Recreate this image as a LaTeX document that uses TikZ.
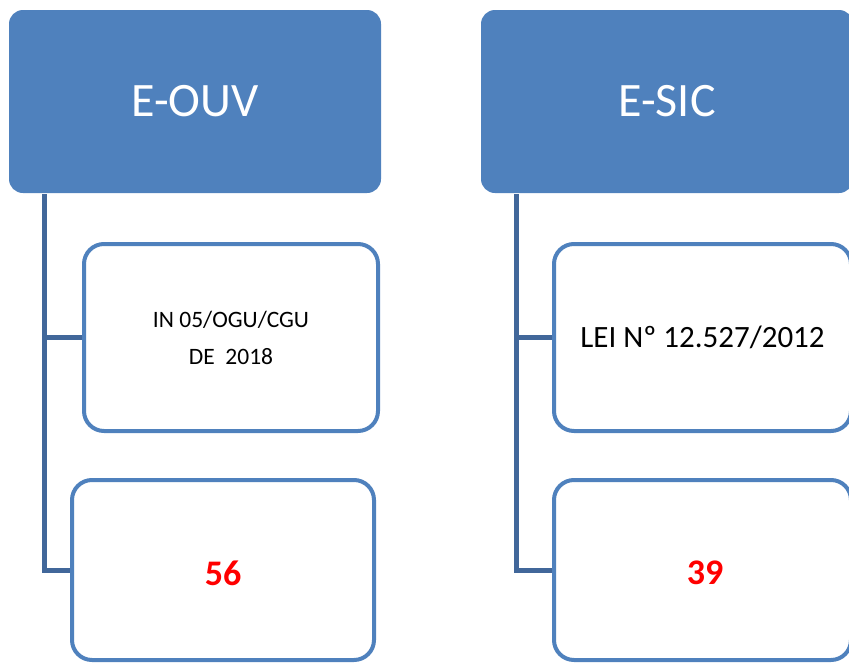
\documentclass[tikz,border=0pt]{standalone}
\usepackage{fontspec}
\setmainfont{Carlito}
\definecolor{accent}{HTML}{4F81BD}
\definecolor{linkline}{HTML}{41679A}
\definecolor{numred}{HTML}{FF0000}
\begin{document}
\begin{tikzpicture}[x=1pt,y=-1pt,
  header/.style={fill=accent, rounded corners=14pt, inner sep=0pt,
    minimum width=372pt, minimum height=183pt, text=white,
    font=\fontsize{48}{58}\selectfont},
  card/.style={draw=accent, line width=4pt, fill=white, rounded corners=20pt,
    inner sep=0pt, align=center},
  num/.style={text=numred, font=\fontsize{36}{40}\selectfont\bfseries},
  conn/.style={draw=linkline, line width=5pt}]
\useasboundingbox (0,0) rectangle (849,664);
\clip (0,0) rectangle (849,664);

% E-OUV column
\node[header] (hdrL) at (195,101.5) {E-OUV};
\node[card, minimum width=294pt, minimum height=187pt,
  font=\fontsize{23.5}{37}\selectfont] (boxL1) at (231,337.5)
  {IN 05/OGU/CGU\\DE\ \ 2018};
\node[card, minimum width=302pt, minimum height=180pt] (boxL2) at (223,570) {};
\node[num] (numL) at (223,573) {56};
\coordinate (tL) at (44,194);
\draw[conn] (tL) |- (boxL2.west);
\draw[conn] (tL |- boxL1.west) -- (boxL1.west);

% E-SIC column
\node[header] (hdrR) at (667,101.5) {E-SIC};
\node[card, minimum width=297pt, minimum height=187pt,
  font=\fontsize{31}{37}\selectfont] (boxR1) at (702.5,337.5)
  {LEI Nº 12.527/2012};
\node[card, minimum width=297pt, minimum height=180pt] (boxR2) at (702.5,570) {};
\node[num] (numR) at (705,573) {39};
\coordinate (tR) at (516,194);
\draw[conn] (tR) |- (boxR2.west);
\draw[conn] (tR |- boxR1.west) -- (boxR1.west);
\end{tikzpicture}
\end{document}
